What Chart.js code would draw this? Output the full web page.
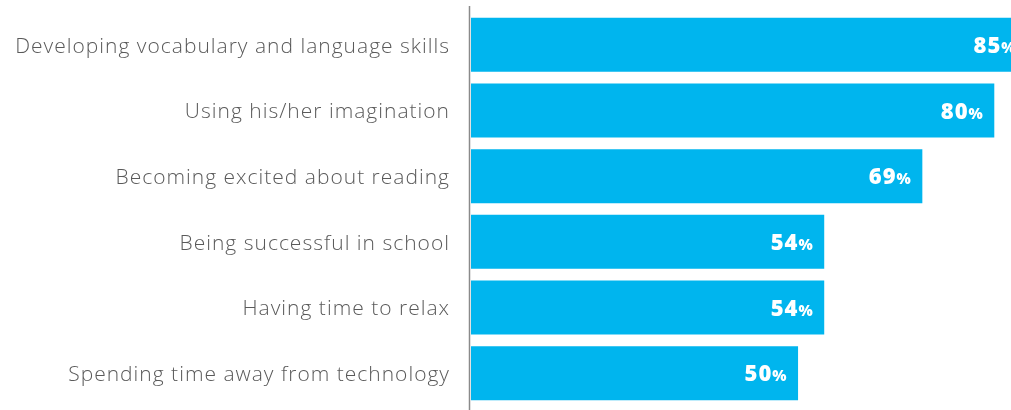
<!DOCTYPE html>
<html>
<head>
<meta charset="utf-8">
<script src="https://cdn.jsdelivr.net/npm/chart.js@4"></script>
<style>
  html, body { margin: 0; padding: 0; background: #fff; overflow: hidden; }
  #wrap { width: 1027px; height: 410px; position: relative; }
</style>
</head>
<body>
<div id="wrap"><canvas id="c"></canvas></div>
<script>
const categories = [
  "Developing vocabulary and language skills",
  "Using his/her imagination",
  "Becoming excited about reading",
  "Being successful in school",
  "Having time to relax",
  "Spending time away from technology"
];
const values = [85, 80, 69, 54, 54, 50];
const valueSuffix = "%";

const BAR_COLOR = "#00B5EE";
const LABEL_FONT = "'Open Sans'";

const spacing = {
  id: "spacing",
  beforeDraw(chart) { chart.ctx.letterSpacing = "1px"; },
  beforeDatasetsDraw(chart) { chart.ctx.letterSpacing = "0px"; }
};

const valueLabels = {
  id: "valueLabels",
  afterDatasetsDraw(chart) {
    const ctx = chart.ctx;
    const meta = chart.getDatasetMeta(0);
    ctx.save();
    ctx.fillStyle = "#ffffff";
    ctx.textBaseline = "alphabetic";
    ctx.textAlign = "left";
    meta.data.forEach((bar, i) => {
      const numStr = String(values[i]);
      ctx.letterSpacing = "0.5px";
      ctx.font = "800 15px " + LABEL_FONT;
      const pw = ctx.measureText(valueSuffix).width;
      ctx.font = "800 22px " + LABEL_FONT;
      ctx.letterSpacing = "1px";
      const nw = ctx.measureText(numStr).width;
      const right = bar.x - 11;
      const base = bar.y + 8;
      ctx.fillText(numStr, right - pw - nw, base);
      ctx.font = "800 15px " + LABEL_FONT;
      ctx.letterSpacing = "0.5px";
      ctx.fillText(valueSuffix, right - pw, base);
    });
    ctx.restore();
  }
};

const axisLine = {
  id: "axisLine",
  afterDraw(chart) {
    const ctx = chart.ctx;
    ctx.save();
    ctx.strokeStyle = "#8a8a8a";
    ctx.lineWidth = 1.5;
    ctx.beginPath();
    ctx.moveTo(469.5, 6);
    ctx.lineTo(469.5, 410);
    ctx.stroke();
    ctx.restore();
  }
};

new Chart(document.getElementById("c"), {
  type: "bar",
  data: {
    labels: categories,
    datasets: [{
      data: values,
      backgroundColor: BAR_COLOR,
      borderWidth: 0,
      categoryPercentage: 0.823,
      barPercentage: 1.0
    }]
  },
  options: {
    indexAxis: "y",
    responsive: true,
    maintainAspectRatio: false,
    animation: false,
    layout: { padding: { top: 12, bottom: 4, left: 0, right: 0 } },
    plugins: {
      legend: { display: false },
      tooltip: { enabled: false }
    },
    scales: {
      x: {
        display: false,
        min: 0,
        max: 85
      },
      y: {
        afterFit(scale) { scale.width = 471; scale.paddingTop = 0; scale.paddingBottom = 0; },
        grid: { display: true, drawTicks: true, tickLength: 21, color: "rgba(0,0,0,0)", drawOnChartArea: false },
        border: { display: false },
        ticks: {
          padding: 0,
          labelOffset: 2,
          color: "#5a5a5a",
          font: { family: "Open Sans", size: 21, weight: 300 }
        }
      }
    }
  },
  plugins: [spacing, valueLabels, axisLine]
});
</script>
</body>
</html>
